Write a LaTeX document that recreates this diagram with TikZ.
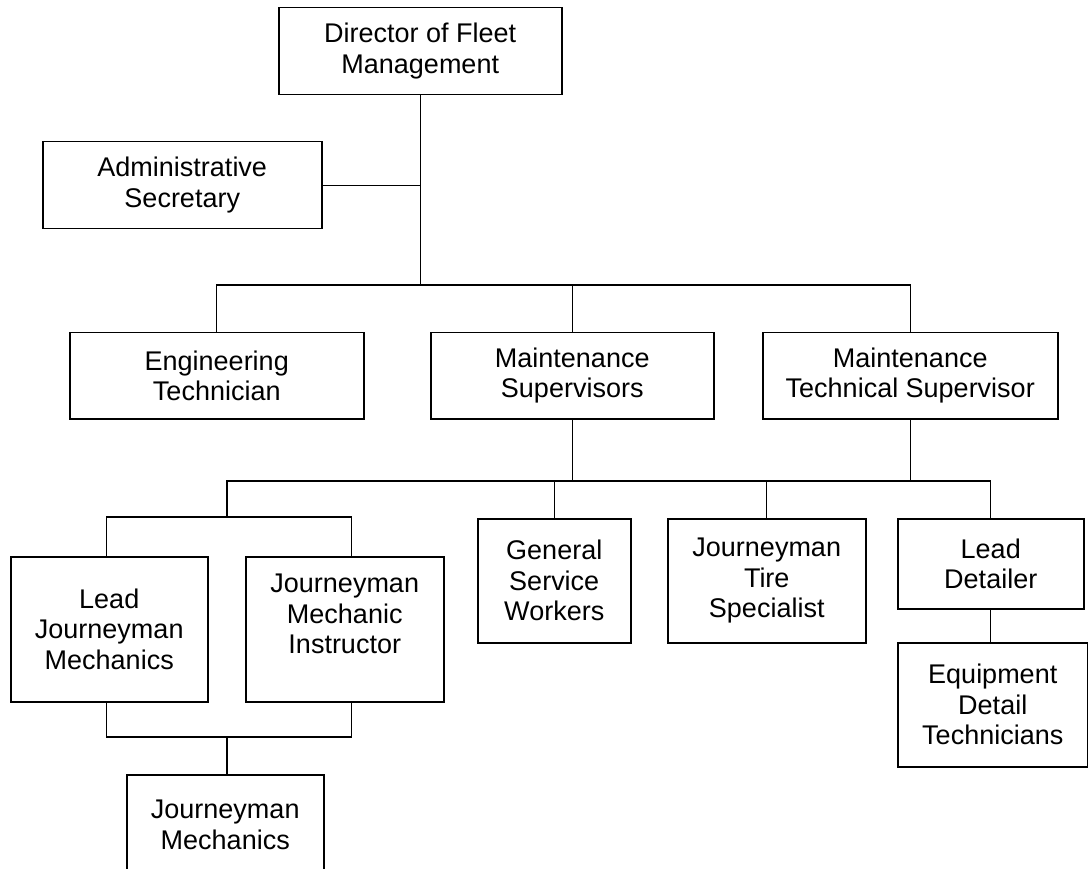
\documentclass[tikz,border=0pt]{standalone}
\usepackage{fontspec}
\setmainfont{Liberation Sans}
\begin{document}
\begin{tikzpicture}[x=1pt,y=-1pt,
		box/.style={draw,line width=1.5pt,align=center,inner sep=0pt,anchor=north west,
			font=\fontsize{27}{30.5}\selectfont},
		link/.style={line width=1.3pt}]
		\useasboundingbox (0,0) rectangle (1088,869);
		\node[box,minimum width=283pt,minimum height=87pt] (dir) at (278,7) {Director of Fleet\\Management};
		\node[box,minimum width=279pt,minimum height=87pt] (sec) at (42,141) {Administrative\\Secretary};
		\node[box,minimum width=294pt,minimum height=86pt] (eng) at (69,332) {Engineering\\Technician};
		\node[box,minimum width=283pt,minimum height=86pt] (msup) at (430,332) {Maintenance\\Supervisors};
		\node[box,minimum width=295pt,minimum height=86pt] (mtsup) at (762,332) {Maintenance\\Technical Supervisor};
		\node[box,minimum width=153pt,minimum height=124pt] (gsw) at (477,518) {General\\Service\\Workers};
		\node[box,minimum width=198pt,minimum height=124pt] (tire) at (667,518) {Journeyman\\Tire\\Specialist};
		\node[box,minimum width=186pt,minimum height=90pt] (ldet) at (897,518) {Lead\\Detailer};
		\node[box,minimum width=190pt,minimum height=124pt] (edt) at (897,642) {Equipment\\Detail\\Technicians};
		\node[box,minimum width=197pt,minimum height=145pt] (ljm) at (10,556) {Lead\\Journeyman\\Mechanics};
		\node[box,minimum width=198pt,minimum height=145pt] (jmi) at (245,556) {Journeyman\\Mechanic\\Instructor\\\mbox{}};
		\node[box,minimum width=197pt,minimum height=100pt] (jm) at (126,774) {Journeyman\\Mechanics};
		\coordinate (b1) at (dir.south |- 0,285);
		\coordinate (j2) at (227,481);
		\coordinate (j3) at (227,517);
		\coordinate (j4) at (227,737);
		\draw[link] (dir) -- (b1);
		\draw[link] (sec.east) -- (sec.east -| b1);
		\draw[link] (eng) |- (b1) -| (mtsup);
		\draw[link] (msup) -- (msup |- b1);
		\draw[link] (msup) -- (msup |- j2);
		\draw[link] (mtsup) -- (mtsup |- j2);
		\draw[link] (j3) -- (j2) -| (ldet);
		\draw[link] (gsw) -- (gsw |- j2);
		\draw[link] (tire) -- (tire |- j2);
		\draw[link] ([xshift=-3pt]ljm.north) |- (j3) -| ([xshift=7pt]jmi.north);
		\draw[link] ([xshift=-3pt]ljm.south) |- (j4) -| ([xshift=7pt]jmi.south);
		\draw[link] (j4) -- (j4 |- jm.north);
		\draw[link] (ldet.south) -- (ldet.south |- edt.north);
	\end{tikzpicture}
\end{document}
